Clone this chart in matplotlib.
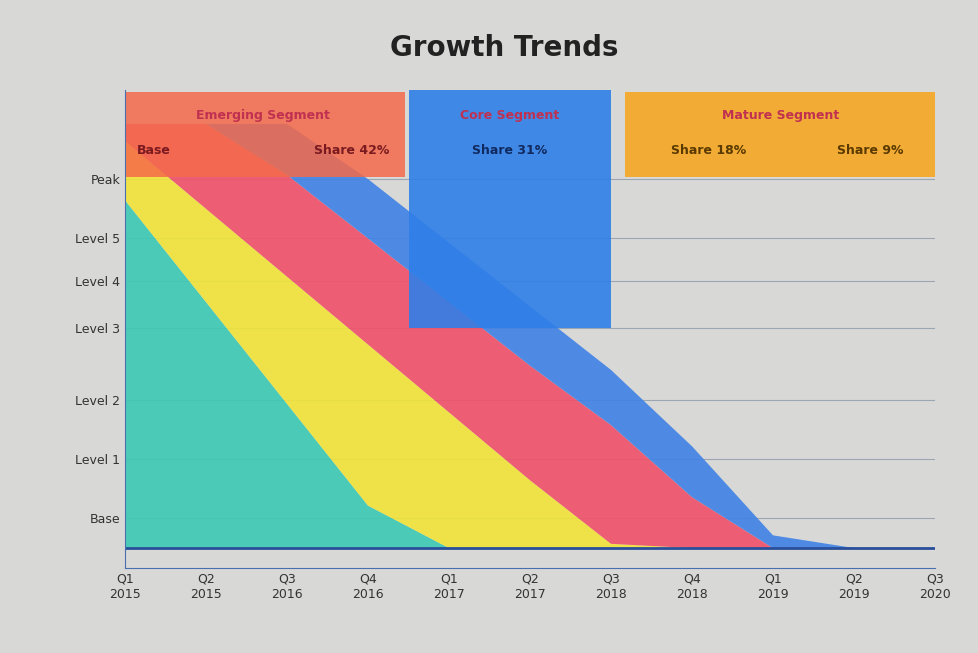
import numpy as np
import matplotlib.pyplot as plt
from matplotlib.patches import Rectangle

# data
periods = ["Q1\n2015", "Q2\n2015", "Q3\n2016", "Q4\n2016", "Q1\n2017", "Q2\n2017",
           "Q3\n2018", "Q4\n2018", "Q1\n2019", "Q2\n2019", "Q3\n2020"]
teal = [82, 58, 34, 10, 0, 0, 0, 0, 0, 0, 0]
yellow = [14, 22, 30, 38, 32, 16, 1, 0, 0, 0, 0]
red = [4, 20, 24, 25, 26, 27, 28, 12, 0, 0, 0]
blue = [0, 0, 12, 14, 14, 14, 13, 12, 3, 0, 0]
y_ticks = [7, 21, 35, 52, 63, 73, 87]
y_labels = ["Base", "Level 1", "Level 2", "Level 3", "Level 4", "Level 5", "Peak"]
headers = ["Emerging Segment", "Core Segment", "Mature Segment"]

fig = plt.figure(figsize=(9.79, 6.53), dpi=100)
fig.patch.set_facecolor("#d8d8d6")
ax = fig.add_axes([125/979, 1-568/653, 810/979, (568-90)/653])
ax.set_facecolor("#d8d8d6")

x = np.arange(len(periods))
ax.stackplot(x, teal, yellow, red, blue,
             colors=["#3cc9b4", "#f2e43a", "#f0506a", "#3f82e6"], alpha=0.9, lw=0)
ax.set_xlim(0, 10)
ax.set_ylim(-4.7, 108)

for t in y_ticks:
    ax.axhline(t, color="#9aa6b2", lw=0.8, zorder=0.5)
ax.axhline(0, color="#2a4f9a", lw=2)

# header boxes
ax.add_patch(Rectangle((0, 87.5), 3.46, 20, color="#f46a4a", alpha=0.85, lw=0))
ax.add_patch(Rectangle((3.5, 52), 2.5, 56, color="#2f7fe8", alpha=0.9, lw=0))
ax.add_patch(Rectangle((6.17, 87.5), 3.83, 20, color="#f5a623", alpha=0.9, lw=0))
for xc, h in zip([1.7, 4.75, 8.1], headers):
    ax.text(xc, 102, h, ha="center", va="center", fontsize=9, color="#c03050", weight="bold")
ax.text(0.35, 93, "Base", ha="center", fontsize=9, color="#7a1a20", weight="bold")
ax.text(2.8, 93, "Share 42%", ha="center", fontsize=9, color="#7a1a20", weight="bold")
ax.text(4.75, 93, "Share 31%", ha="center", fontsize=9, color="#102a60", weight="bold")
ax.text(7.2, 93, "Share 18%", ha="center", fontsize=9, color="#5a3a00", weight="bold")
ax.text(9.2, 93, "Share 9%", ha="center", fontsize=9, color="#5a3a00", weight="bold")

ax.set_yticks(y_ticks)
ax.set_yticklabels(y_labels, fontsize=9, color="#333333")
ax.set_xticks(x)
ax.set_xticklabels(periods, fontsize=9, color="#333333")
for s in ["top", "right"]:
    ax.spines[s].set_visible(False)
ax.spines["left"].set_color("#4a6fb0")
ax.spines["bottom"].set_color("#4a6fb0")
ax.tick_params(length=0)

fig.text(0.515, 0.915, "Growth Trends", ha="center", fontsize=20, weight="bold", color="#222222")
fig.savefig("out.png", facecolor=fig.get_facecolor())
